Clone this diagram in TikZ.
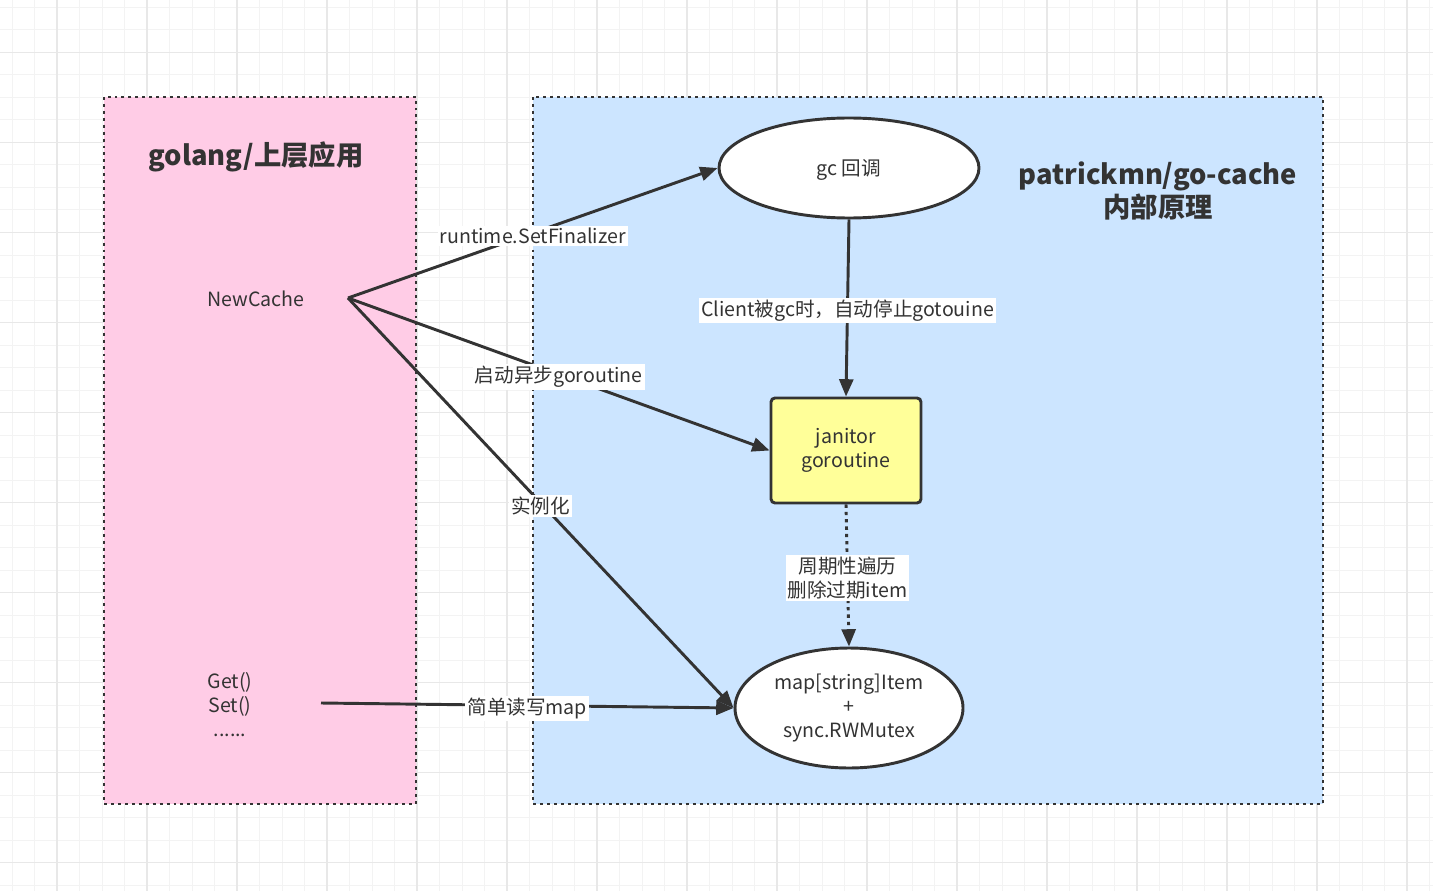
\documentclass[tikz,border=0pt]{standalone}
\usepackage{fontspec}
\setmainfont{Noto Sans CJK SC}
\usetikzlibrary{arrows.meta,shapes.geometric}
\definecolor{txt}{HTML}{333333}
\definecolor{strk}{HTML}{333333}
\definecolor{pinkfill}{HTML}{FFCCE6}
\definecolor{bluefill}{HTML}{CCE5FF}
\definecolor{yellowfill}{HTML}{FFFF99}
\definecolor{gridminor}{HTML}{F3F3F3}
\definecolor{gridmajor}{HTML}{E8E8E8}
\tikzset{
  minorline/.style={draw=gridminor,line width=0.75pt},
  majorline/.style={draw=gridmajor,line width=0.9pt},
  region/.style={draw=strk,line width=2.2pt,dash pattern=on 2.2pt off 3pt},
  basetext/.style={text=txt,font=\fontsize{14.7pt}{18pt}\selectfont,align=center,inner sep=0pt},
  titletext/.style={text=txt,font=\fontsize{20.5pt}{25pt}\selectfont\bfseries,align=center,inner sep=0pt},
  shapebox/.style={draw=strk,line width=2.2pt,basetext},
  conn/.style={draw=strk,line width=2.2pt,-{Triangle[length=13pt,width=10.5pt]}},
  dotconn/.style={draw=strk,line width=2.2pt,dash pattern=on 2.5pt off 3pt,-{Triangle[length=13pt,width=10.5pt]}},
  lbl/.style={basetext,fill=white,inner sep=1.5pt,yshift=-2pt},
}
\begin{document}
\begin{tikzpicture}[x=0.75pt,y=-0.75pt]
\useasboundingbox (0,0) rectangle (1433,891);
\fill[white] (0,0) rectangle (1433,891);
% grid
\foreach \i in {0,...,63} \draw[minorline] ({12+22.5*\i},0) -- ++(0,891);
\foreach \i in {0,...,39} \draw[minorline] (0,{7.5+22.5*\i}) -- ++(1433,0);
\foreach \i in {0,...,15} \draw[majorline] ({57+90*\i},0) -- ++(0,891);
\foreach \i in {0,...,9} \draw[majorline] (0,{52.5+90*\i}) -- ++(1433,0);
% regions
\filldraw[region,fill=pinkfill] (104,97) rectangle (416,804);
\filldraw[region,fill=bluefill] (533,97) rectangle (1323,804);
% titles
\node[titletext] (t1) at (256,157) {golang/上层应用};
\node[titletext] (t2) at (1158,191) {patrickmn/go-cache\\内部原理};
% left texts
\node[basetext] (nctext) at (256,299) {NewCache};
\node[basetext] (gstext) at (230,705) {Get()\\Set()\\......};
\coordinate (nc) at (348,298);
\coordinate (gs) at (321,703);
% shapes
\node[shapebox,ellipse,fill=white,minimum width=195pt,minimum height=75pt,text depth=1pt] (gc) at (849,168) {gc 回调};
\node[shapebox,rectangle,rounded corners=3pt,fill=yellowfill,minimum width=112.5pt,minimum height=78.75pt] (jan) at (846,450.5) {janitor\\goroutine};
\node[shapebox,ellipse,fill=white,minimum width=171pt,minimum height=90pt] (map) at (849,708) {map[string]Item\\+\\sync.RWMutex};
% connectors
\draw[conn] (nc) -- (gc.west) node[lbl,pos=0.5] {runtime.SetFinalizer};
\draw[conn] (nc) -- (jan.west) node[lbl,pos=0.5] {启动异步goroutine};
\draw[conn] (nc) -- (map.west) node[lbl,pos=0.5] {实例化};
\draw[conn] (gc.south) -- (jan.north) node[lbl,pos=0.5] {Client被gc时，自动停止gotouine};
\draw[dotconn] (jan.south) -- (map.north) node[lbl,pos=0.5] {周期性遍历\\删除过期item};
\draw[conn] (gs) -- (map.west) node[lbl,pos=0.5] {简单读写map};
\end{tikzpicture}
\end{document}
